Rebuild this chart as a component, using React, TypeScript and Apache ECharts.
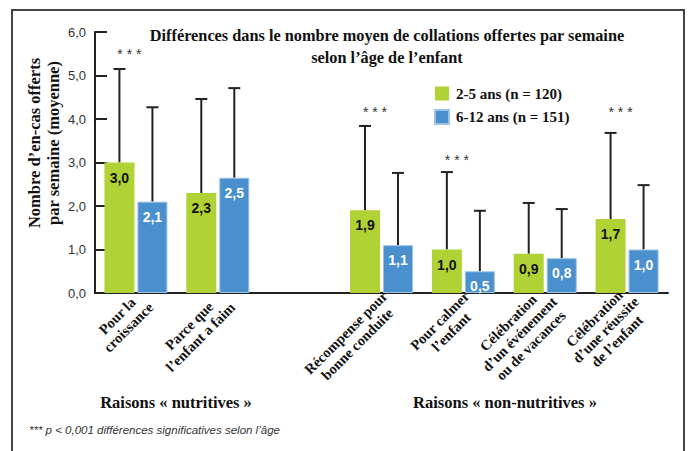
import React, { useEffect, useRef } from "react";
import * as echarts from "echarts";

const categories = [
  "Pour la\ncroissance",
  "Parce que\nl’enfant a faim",
  "",
  "Récompense pour\nbonne conduite",
  "Pour calmer\nl’enfant",
  "Célébration\nd’un événement\nou de vacances",
  "Célébration\nd’une réussite\nde l’enfant",
];
const seriesNames = ["2-5 ans (n = 120)", "6-12 ans (n = 151)"];
const youngValues = [3.0, 2.3, null, 1.9, 1.0, 0.9, 1.7];
const youngLabels = ["3,0", "2,3", "", "1,9", "1,0", "0,9", "1,7"];
const olderValues = [2.1, 2.65, null, 1.1, 0.5, 0.8, 1.0];
const olderLabels = ["2,1", "2,5", "", "1,1", "0,5", "0,8", "1,0"];
const youngUpper = [5.15, 4.46, null, 3.84, 2.78, 2.07, 3.68];
const olderUpper = [4.27, 4.71, null, 2.76, 1.89, 1.93, 2.48];
const starLevel = [5.5, null, null, 4.15, 3.05, null, 4.15];
const groupTitles = ["Raisons « nutritives »", "Raisons « non-nutritives »"];
const titleText = "Différences dans le nombre moyen de collations offertes par semaine\nselon l’âge de l’enfant";
const yAxisTitle = "Nombre d’en-cas offerts\npar semaine (moyenne)";
const footnote = "*** p < 0,001 différences significatives selon l’âge";

const GREEN = "#b1d235";
const BLUE = "#4a8fce";
const SERIF = "Liberation Serif";
const SANS = "Liberation Sans";
const BAR_W = 30;
const BAR_GAP = 3;

function errorData(means: (number | null)[], uppers: (number | null)[]) {
  const out: any[] = [];
  means.forEach((m, i) => {
    const u = uppers[i];
    if (m != null && u != null) out.push([i, m, u, starLevel[i] == null ? -1 : starLevel[i]]);
  });
  return out;
}

function makeErrorSeries(side: number, means: any[], uppers: any[], withStars: boolean) {
  return {
    type: "custom",
    z: 3,
    data: errorData(means, uppers),
    encode: { x: 0, y: 2 },
    renderItem: (params: any, api: any) => {
      const i = api.value(0);
      const base = api.coord([i, api.value(1)]);
      const top = api.coord([i, api.value(2)]);
      const x = base[0] + (side * (BAR_W + BAR_GAP)) / 2;
      const children: any[] = [
        { type: "line", shape: { x1: x, y1: base[1], x2: x, y2: top[1] }, style: { stroke: "#222", lineWidth: 2 } },
        { type: "line", shape: { x1: x - 6, y1: top[1], x2: x + 6, y2: top[1] }, style: { stroke: "#222", lineWidth: 2 } },
      ];
      const s = api.value(3);
      if (withStars && s > 0) {
        const sp = api.coord([i, s]);
        children.push({
          type: "text",
          x: x + 10,
          y: sp[1],
          style: { text: "* * *", fontSize: 14, fontFamily: SANS, fill: "#333", align: "center", verticalAlign: "middle" },
        });
      }
      return { type: "group", children };
    },
  };
}

export default function App() {
  const ref = useRef<HTMLDivElement>(null);
  useEffect(() => {
    document.body.style.margin = "0";
    const chart = echarts.init(ref.current!, null, { renderer: "svg" });
    const option: any = {
      animation: false,
      backgroundColor: "#ffffff",
      grid: { left: 95, right: 23, top: 32, bottom: 158 },
      legend: {
        orient: "vertical",
        left: 434,
        top: 86,
        padding: 0,
        itemWidth: 14,
        itemHeight: 14,
        itemGap: 8,
        icon: "rect",
        data: seriesNames,
        textStyle: { fontFamily: SERIF, fontWeight: "bold", fontSize: 15, color: "#111", padding: [0, 0, 0, 2] },
      },
      xAxis: {
        type: "category",
        data: categories,
        axisLine: { lineStyle: { color: "#222", width: 2 } },
        axisTick: { inside: true, length: 8, interval: 0, lineStyle: { color: "#222", width: 1.5 } },
        axisLabel: {
          interval: 0,
          rotate: 45,
          margin: -3,
          padding: [26, 0, 0, 0],
          formatter: (v: string) => (v ? v.split("\n").map((s) => `{c|${s}}`).join("\n") : ""),
          rich: {
            c: { align: "center", fontFamily: SERIF, fontWeight: "bold", fontSize: 14.5, lineHeight: 16, color: "#111" },
          },
        },
      },
      yAxis: {
        type: "value",
        min: 0,
        max: 6,
        interval: 1,
        splitLine: { show: false },
        axisLine: { show: true, lineStyle: { color: "#222", width: 2 } },
        axisTick: { show: true, inside: true, length: 12, lineStyle: { color: "#222", width: 2 } },
        axisLabel: {
          margin: 9,
          fontFamily: SANS,
          fontSize: 13,
          color: "#333",
          formatter: (v: number) => v.toFixed(1).replace(".", ","),
        },
      },
      series: [
        {
          name: seriesNames[0],
          type: "bar",
          data: youngValues.map((v) => (v == null ? "-" : v)),
          barWidth: BAR_W,
          barGap: "10%",
          z: 4,
          itemStyle: { color: GREEN },
          label: {
            show: true,
            position: "insideTop",
            distance: 8,
            formatter: (p: any) => youngLabels[p.dataIndex],
            fontFamily: SANS,
            fontWeight: "bold",
            fontSize: 14,
            color: "#111",
          },
        },
        {
          name: seriesNames[1],
          type: "bar",
          data: olderValues.map((v) => (v == null ? "-" : v)),
          barWidth: BAR_W,
          z: 4,
          itemStyle: { color: BLUE, borderColor: "#9cc3e6", borderWidth: 1 },
          label: {
            show: true,
            position: "insideTop",
            distance: 8,
            formatter: (p: any) => olderLabels[p.dataIndex],
            fontFamily: SANS,
            fontWeight: "bold",
            fontSize: 14,
            color: "#ffffff",
          },
        },
        makeErrorSeries(-1, youngValues, youngUpper, true),
        makeErrorSeries(1, olderValues, olderUpper, false),
      ],
      graphic: [
        {
          type: "rect",
          shape: { x: 12, y: 10, width: 672, height: 470 },
          style: { fill: "none", stroke: "#444", lineWidth: 2 },
          z: -1,
        },
        {
          type: "text",
          x: 387,
          y: 46,
          style: {
            text: titleText,
            align: "center",
            verticalAlign: "middle",
            fontFamily: SERIF,
            fontWeight: "bold",
            fontSize: 16.3,
            lineHeight: 22,
            fill: "#111",
          },
        },
        {
          type: "text",
          x: 44,
          y: 143,
          rotation: Math.PI / 2,
          style: {
            text: yAxisTitle,
            align: "center",
            verticalAlign: "middle",
            fontFamily: SERIF,
            fontWeight: "bold",
            fontSize: 16.5,
            lineHeight: 19,
            fill: "#111",
          },
        },
        {
          type: "text",
          x: 176,
          y: 402,
          style: { text: groupTitles[0], align: "center", verticalAlign: "middle", fontFamily: SERIF, fontWeight: "bold", fontSize: 16.5, fill: "#111" },
        },
        {
          type: "text",
          x: 505,
          y: 402,
          style: { text: groupTitles[1], align: "center", verticalAlign: "middle", fontFamily: SERIF, fontWeight: "bold", fontSize: 16.5, fill: "#111" },
        },
        {
          type: "text",
          x: 29,
          y: 430,
          style: { text: footnote, align: "left", verticalAlign: "middle", fontFamily: SANS, fontStyle: "italic", fontSize: 11.5, fill: "#333" },
        },
      ],
    };
    chart.setOption(option);
    return () => chart.dispose();
  }, []);
  return <div ref={ref} style={{ width: 691, height: 451 }} />;
}
